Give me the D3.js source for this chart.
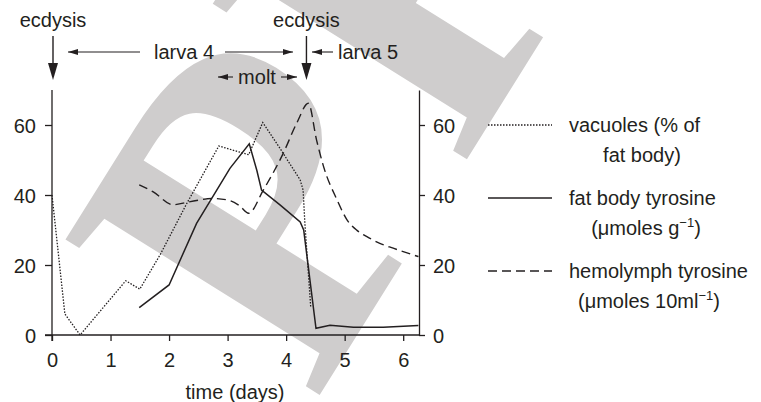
<!DOCTYPE html>
<html>
<head>
<meta charset="utf-8">
<script src="https://cdn.jsdelivr.net/npm/d3@7"></script>
<style>
  body { margin: 0; background: #fff; }
  svg { display: block; font-family: "Liberation Sans", Arial, sans-serif; }
  .axis path, .axis line { stroke: #231f20; stroke-width: 1.3; }
  .axis text { font-size: 20px; fill: #231f20; font-family: "Liberation Sans", Arial, sans-serif; }
  .lbl { font-size: 20px; fill: #231f20; }
</style>
</head>
<body>
<svg id="chart" width="761" height="402"></svg>
<script>
// x tick labels (days) and y tick labels
const dayTicks = [0, 1, 2, 3, 4, 5, 6];
const valueTicks = [0, 20, 40, 60];

// vacuoles (% of fat body) - dotted
const vacuoleDays = [0, 0.22, 0.48, 1.26, 1.5, 1.85, 2.3, 2.85, 3.36, 3.6, 3.9, 4.24, 4.29, 4.32, 4.42];
const vacuoleVals = [40, 6, 0, 15.5, 13.1, 23, 37.5, 54, 51.5, 60.7, 53.2, 44.3, 41.4, 32, 8];

// fat body tyrosine - solid
const fatDays = [1.49, 2.0, 2.47, 3.04, 3.37, 3.5, 3.58, 3.9, 4.24, 4.3, 4.51, 4.75, 5.15, 5.66, 6.26];
const fatVals = [7.8, 14.3, 31.9, 47.6, 54.6, 47, 41.4, 37.1, 32.3, 30, 1.9, 2.8, 2.2, 2.2, 2.7];

// hemolymph tyrosine - dashed
const hemoDays = [1.49, 1.73, 2.07, 2.3, 2.76, 3.04, 3.2, 3.36, 3.61, 3.95, 4.18, 4.38, 4.52, 4.64, 4.87, 5.04, 5.21, 5.38, 5.6, 5.83, 6.26];
const hemoVals = [42.9, 40.9, 37.2, 37.9, 39, 38.4, 37, 34.8, 41.4, 51.9, 60.5, 66.2, 55.7, 48.1, 38.6, 32.9, 29.9, 28.1, 26.2, 24.8, 22.4];

// stage markers
const ecdysisDays = [0, 4.33];

const svg = d3.select('#chart');

// faint background mark
svg.append('text')
    .attr('transform', 'translate(314,404) rotate(-58)')
    .attr('font-family', '"Liberation Serif", serif')
    .attr('font-weight', 'bold')
    .attr('font-size', 455)
    .attr('fill', '#cfcdcd')
    .text('PR');

const x = d3.scaleLinear().domain([0, 6.27]).range([52, 419]);
const y = d3.scaleLinear().domain([0, 70]).range([335, 90]);

// bottom axis
const xAxis = d3.axisBottom(x).tickValues(dayTicks).tickSizeInner(6).tickSizeOuter(0).tickPadding(6).tickFormat(d3.format('d'));
const gx = svg.append('g').attr('class', 'axis')
    .attr('transform', 'translate(0,335)')
    .call(xAxis)
    .call(g => g.select('.domain').attr('d', 'M45,0H' + x.range()[1]));

// left axis
const gyl = svg.append('g').attr('class', 'axis')
    .attr('transform', 'translate(52,0)')
    .call(d3.axisLeft(y).tickValues(valueTicks).tickSizeInner(7).tickSizeOuter(0).tickPadding(9))
    .call(g => g.select('.domain').attr('d', 'M0,' + y.range()[1] + 'V' + (y.range()[0] + 6)));

// right axis
const gyr = svg.append('g').attr('class', 'axis')
    .attr('transform', 'translate(' + x.range()[1] + ',0)')
    .call(d3.axisRight(y).tickValues(valueTicks).tickSizeInner(6).tickSizeOuter(0).tickPadding(8));

gyl.selectAll('text').attr('dy', '0.36em');
gyr.selectAll('text').attr('dy', '0.36em');
gx.selectAll('text').attr('dy', '1.0em');

svg.append('text').attr('class', 'lbl')
    .attr('x', 235).attr('y', 399)
    .attr('text-anchor', 'middle')
    .text('time (days)');

// series lines
const dotted = '1.5,1.5';
const dashed = '9,5';
const series = [
    { days: vacuoleDays, vals: vacuoleVals, dash: dotted, curve: d3.curveLinear, width: 1.3 },
    { days: fatDays, vals: fatVals, dash: null, curve: d3.curveLinear, width: 1.5 },
    { days: hemoDays, vals: hemoVals, dash: dashed, curve: d3.curveMonotoneX, width: 1.4 }
];

series.forEach(s => {
    const pts = s.days.map((d, i) => [d, s.vals[i]]);
    svg.append('path')
        .datum(pts)
        .attr('fill', 'none')
        .attr('stroke', '#231f20')
        .attr('stroke-width', s.width)
        .attr('stroke-dasharray', s.dash)
        .attr('d', d3.line().x(d => x(d[0])).y(d => y(d[1])).curve(s.curve));
});

// small arrowhead for the stage arrows
svg.append('defs').append('marker').attr('id', 'smallHead')
    .attr('viewBox', '0 0 10 6').attr('refX', 10).attr('refY', 3)
    .attr('markerWidth', 10).attr('markerHeight', 6)
    .attr('markerUnits', 'userSpaceOnUse').attr('orient', 'auto')
    .append('path').attr('d', 'M0,0L10,3L0,6Z').attr('fill', '#231f20');

ecdysisDays.forEach(d => {
    const cx = x(d) + 1;
    svg.append('text').attr('class', 'lbl')
        .attr('x', cx).attr('y', 27)
        .attr('text-anchor', 'middle')
        .text('ecdysis');
    svg.append('line')
        .attr('x1', cx).attr('x2', cx)
        .attr('y1', 36).attr('y2', 64)
        .attr('stroke', '#231f20').attr('stroke-width', 1.4);
    svg.append('path')
        .attr('d', 'M' + (cx - 5) + ',63L' + (cx + 5) + ',63L' + cx + ',80Z')
        .attr('fill', '#231f20');
});

function hArrow(x1, x2, yy) {
    svg.append('line')
        .attr('x1', x1).attr('x2', x2).attr('y1', yy).attr('y2', yy)
        .attr('stroke', '#231f20').attr('stroke-width', 1.1)
        .attr('marker-end', 'url(#smallHead)');
}

// larva 4
svg.append('text').attr('class', 'lbl').attr('x', 184).attr('y', 59).attr('text-anchor', 'middle').text('larva 4');
hArrow(140, 68, 52);
hArrow(225, 293, 52);
// larva 5
svg.append('text').attr('class', 'lbl').attr('x', 338).attr('y', 59).text('larva 5');
hArrow(333, 312, 52);
// molt
svg.append('text').attr('class', 'lbl').attr('x', 257).attr('y', 84).attr('text-anchor', 'middle').text('molt');
hArrow(233, 218, 77);
hArrow(281, 297, 77);

// legend
const legendKeys = [
    { y: 125, dash: dotted, width: 1.3,
      lines: [{ t: 'vacuoles (% of', x: 569, a: 'start' }, { t: 'fat body)', x: 642, a: 'middle' }] },
    { y: 198, dash: null, width: 1.5,
      lines: [{ t: 'fat body tyrosine', x: 569, a: 'start' }, { t: ['(μmoles g', '−1', ')'], x: 646, a: 'middle' }] },
    { y: 271, dash: dashed, width: 1.4,
      lines: [{ t: 'hemolymph tyrosine', x: 569, a: 'start' }, { t: ['(μmoles 10ml', '−1', ')'], x: 649, a: 'middle' }] }
];

legendKeys.forEach(k => {
    svg.append('line')
        .attr('x1', 488).attr('x2', 552).attr('y1', k.y).attr('y2', k.y)
        .attr('stroke', '#231f20').attr('stroke-width', k.width)
        .attr('stroke-dasharray', k.dash);
    k.lines.forEach((ln, i) => {
        const t = svg.append('text').attr('class', 'lbl')
            .attr('x', ln.x).attr('y', k.y + 7 + i * 30)
            .attr('text-anchor', ln.a);
        if (typeof ln.t === 'string') {
            t.text(ln.t);
        } else {
            t.append('tspan').text(ln.t[0]);
            t.append('tspan').attr('font-size', 13).attr('dy', -8).text(ln.t[1]);
            t.append('tspan').attr('dy', 8).text(ln.t[2]);
        }
    });
});
</script>
</body>
</html>
